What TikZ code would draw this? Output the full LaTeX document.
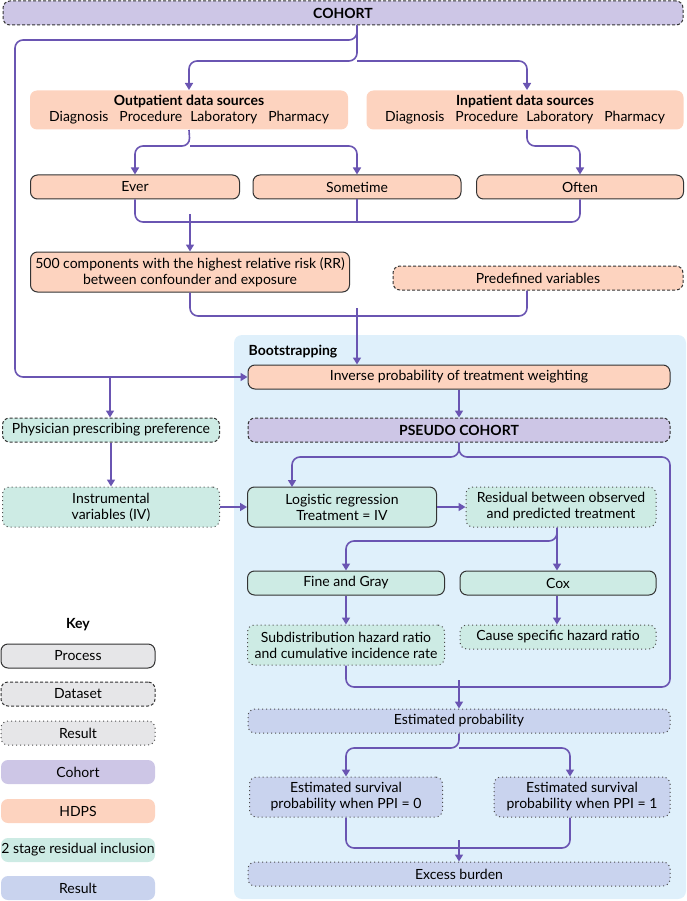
\documentclass[tikz,border=0pt]{standalone}
\usepackage{fontspec}
\setmainfont{Lato}
\usetikzlibrary{arrows.meta}
\definecolor{cohortc}{HTML}{CDC6E6}
\definecolor{hdpsc}{HTML}{FDD3BF}
\definecolor{stagec}{HTML}{CDEBE4}
\definecolor{resc}{HTML}{C9D3EE}
\definecolor{keyc}{HTML}{E6E6E8}
\definecolor{bootc}{HTML}{DFF0FB}
\definecolor{flowc}{HTML}{6A55B2}
\tikzset{
  box/.style={draw, rounded corners=7pt, line width=1pt, inner sep=0pt,
    minimum height=24pt, align=center, font=\fontsize{14}{16}\selectfont},
  process/.style={box, draw=black!80},
  dataset/.style={box, draw=black!80, dash pattern=on 3pt off 2pt},
  result/.style={box, draw=black!70, dash pattern=on 1pt off 3pt},
  plain/.style={box, draw=none},
  flow/.style={draw=flowc, line width=1.6pt, rounded corners=8pt},
  arr/.style={flow, -{Triangle[length=7pt,width=8pt]}}
}
\begin{document}
\begin{tikzpicture}[x=1pt, y=-1pt]
  \useasboundingbox (0,0) rectangle (686,901);
  \fill[bootc, rounded corners=8pt] (234,335) rectangle (686,899);
  \node[font=\fontsize{14}{16}\selectfont\bfseries] (boot) at (293,352) {Bootstrapping};

  % cohort and data sources
  \node[dataset, fill=cohortc, minimum width=680pt, font=\fontsize{14}{16}\selectfont\bfseries] (cohort) at (343,13) {COHORT};
  \node[plain, fill=hdpsc, minimum width=318pt, minimum height=39pt] (outp) at (189,110)
    {\textbf{Outpatient data sources}\\Diagnosis\hspace{11pt}Procedure\hspace{8pt}Laboratory\hspace{11pt}Pharmacy};
  \node[plain, fill=hdpsc, minimum width=317pt, minimum height=39pt] (inp) at (525,110)
    {\textbf{Inpatient data sources}\\Diagnosis\hspace{11pt}Procedure\hspace{8pt}Laboratory\hspace{11pt}Pharmacy};
  \node[process, fill=hdpsc, minimum width=209pt] (ever) at (135,187) {Ever};
  \node[process, fill=hdpsc, minimum width=208pt] (some) at (357,187) {Sometime};
  \node[process, fill=hdpsc, minimum width=207pt] (often) at (580,187) {Often};
  \node[process, fill=hdpsc, minimum width=319pt, minimum height=40pt] (comp) at (190,272)
    {500 components with the highest relative risk (RR)\\between confounder and exposure};
  \node[dataset, fill=hdpsc, minimum width=290pt] (predef) at (538,278) {Predefined variables};

  % bootstrapped part
  \node[process, fill=hdpsc, minimum width=422pt] (ipw) at (459,377) {Inverse probability of treatment weighting};
  \node[dataset, fill=cohortc, minimum width=422pt, font=\fontsize{14}{16}\selectfont\bfseries] (pseudo) at (459,430) {PSEUDO COHORT};
  \node[dataset, fill=stagec, minimum width=217pt] (phys) at (111,430) {Physician prescribing preference};
  \node[result, fill=stagec, minimum width=217pt, minimum height=40pt] (iv) at (111,507) {Instrumental\\variables (IV)};
  \node[process, fill=stagec, minimum width=189pt, minimum height=40pt] (logit) at (342,507) {Logistic regression\\Treatment = IV};
  \node[result, fill=stagec, minimum width=190pt, minimum height=40pt] (resid) at (561,507) {Residual between observed\\and predicted treatment};
  \node[process, fill=stagec, minimum width=197pt] (fine) at (346,583) {Fine and Gray};
  \node[process, fill=stagec, minimum width=196pt] (cox) at (558,583) {Cox};
  \node[result, fill=stagec, minimum width=197pt, minimum height=40pt] (subd) at (346,645) {Subdistribution hazard ratio\\and cumulative incidence rate};
  \node[result, fill=stagec, minimum width=196pt] (cause) at (558,637) {Cause specific hazard ratio};
  \node[result, fill=resc, minimum width=422pt] (estp) at (459,721) {Estimated probability};
  \node[result, fill=resc, minimum width=193pt, minimum height=40pt] (surv0) at (346,797) {Estimated survival\\probability when PPI = 0};
  \node[result, fill=resc, minimum width=176pt, minimum height=40pt] (surv1) at (582,797) {Estimated survival\\probability when PPI = 1};
  \node[result, fill=resc, minimum width=422pt] (excess) at (459,874) {Excess burden};

  % key
  \node[font=\fontsize{14}{16}\selectfont\bfseries] (key) at (78,625) {Key};
  \node[process, fill=keyc, minimum width=154pt] (kproc) at (78,656) {Process};
  \node[dataset, fill=keyc, minimum width=154pt] (kdata) at (78,694) {Dataset};
  \node[result, fill=keyc, minimum width=154pt] (kres) at (78,733) {Result};
  \node[plain, fill=cohortc, minimum width=154pt] (kcoh) at (78,772) {Cohort};
  \node[plain, fill=hdpsc, minimum width=154pt] (khdps) at (78,811) {HDPS};
  \node[plain, fill=stagec, minimum width=154pt] (kstage) at (78,850) {2 stage residual inclusion};
  \node[plain, fill=resc, minimum width=154pt] (kresult) at (78,888) {Result};

  % connectors
  \draw[flow] (cohort.south -| 357,0) -- (357,40) -- (15,40) -- (15,377) -- (110,377);
  \draw[arr] (110,377) -- (ipw.west);
  \draw[arr] (110,377) -- (phys.north -| 110,0);
  \draw[arr] (cohort.south -| 357,0) -- (357,61) -| (outp.north);
  \draw[arr] (357,61) -| (inp.north -| 527,0);
  \draw[arr] (outp.south) -- (190,146) -| (ever.north);
  \draw[arr] (190,146) -| (some.north);
  \draw[arr] (inp.south -| 527,0) -- (527,146) -| (often.north);
  \draw[flow] (ever.south) |- (190,222);
  \draw[flow] (often.south) |- (190,222);
  \draw[flow] (some.south) -- (357,222);
  \draw[arr] (190,214) -- (comp.north);
  \draw[flow] (comp.south) |- (357,316);
  \draw[flow] (predef.south -| 527,0) |- (357,316);
  \draw[arr] (357,308) -- (ipw.north -| 357,0);
  \draw[arr] (ipw.south) -- (pseudo.north);
  \draw[arr] (phys.south) -- (iv.north);
  \draw[arr] (iv.east) -- (logit.west);
  \draw[arr] (logit.east) -- (resid.west);
  \draw[arr] (pseudo.south) -- (459,457) -| (292,487);
  \draw[flow] (pseudo.south) -- (459,457) -- (670,457) -- (670,687) -- (459,687);
  \draw[arr] (resid.south -| 557,0) -- (557,541) -| (fine.north -| 346,0);
  \draw[arr] (557,530) -- (cox.north -| 557,0);
  \draw[arr] (fine.south) -- (subd.north);
  \draw[arr] (cox.south -| 557,0) -- (cause.north -| 557,0);
  \draw[flow] (subd.south) |- (459,687);
  \draw[arr] (459,680) -- (estp.north);
  \draw[arr] (estp.south) -- (459,748) -| (surv0.north);
  \draw[arr] (459,748) -| (surv1.north -| 570,0);
  \draw[flow] (surv0.south) |- (459,848);
  \draw[flow] (surv1.south -| 570,0) |- (459,848);
  \draw[arr] (459,840) -- (excess.north);
\end{tikzpicture}
\end{document}
